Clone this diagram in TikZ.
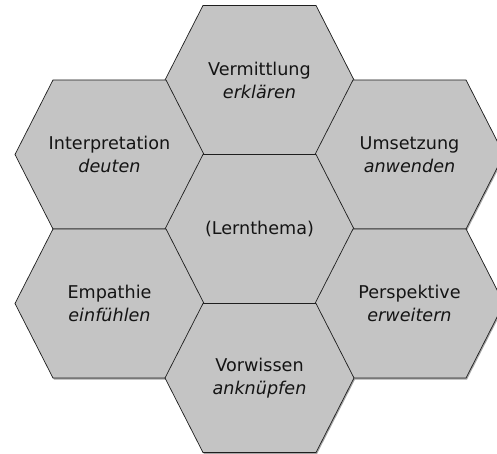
\documentclass[tikz,border=0pt]{standalone}
\usepackage{fontspec}
\setmainfont{DejaVu Sans}
\definecolor{hexfill}{RGB}{196,196,196}
\definecolor{hexline}{RGB}{30,30,30}
\definecolor{txt}{RGB}{20,20,20}
\tikzset{
  hexpath/.style={fill=hexfill, draw=hexline, line width=0.7pt, line join=miter},
  hexshadow/.style={fill=black!35, draw=none},
  hex/.pic={
    \fill[hexshadow] (-55.5,-73) -- (57.5,-73) -- (95.5,1.5) -- (57.5,76) -- (-55.5,76) -- (-93.5,1.5) -- cycle;
    \draw[hexpath] (-56.5,-74.5) -- (56.5,-74.5) -- (94.5,0) -- (56.5,74.5) -- (-56.5,74.5) -- (-94.5,0) -- cycle;
  },
  label/.style={align=center, text=txt, font=\fontsize{17.6}{23}\selectfont, inner sep=0pt}
}
\begin{document}
\begin{tikzpicture}[x=1pt,y=-1pt]
\useasboundingbox (0,0) rectangle (497,454);
\begin{scope}
\clip (0,0) rectangle (497,454);
\pic at (259.5,80) {hex};
\pic at (109.5,154.5) {hex};
\pic at (409.5,154.5) {hex};
\pic at (259.5,229) {hex};
\pic at (109.5,303.5) {hex};
\pic at (409.5,303.5) {hex};
\pic at (259.5,378) {hex};
\end{scope}
\node[label] (verm) at (259.5,80) {Vermittlung\\\textit{erklären}};
\node[label] (interp) at (109.5,154.5) {Interpretation\\\textit{deuten}};
\node[label] (umsetz) at (409.5,154.5) {Umsetzung\\\textit{anwenden}};
\node[label] (lern) at (259.5,229) {(Lernthema)};
\node[label] (empa) at (109.5,303.5) {Empathie\\\textit{einfühlen}};
\node[label] (persp) at (409.5,303.5) {Perspektive\\\textit{erweitern}};
\node[label] (vorw) at (259.5,378) {Vorwissen\\\textit{anknüpfen}};
\end{tikzpicture}
\end{document}
